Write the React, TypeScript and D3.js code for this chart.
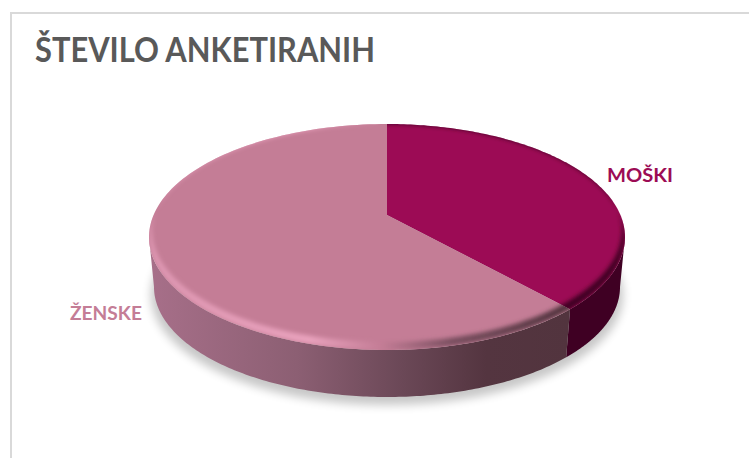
import React from "react";
import * as d3 from "d3";

// Survey respondents by gender
const categories = ["MOŠKI", "ŽENSKE"];
const respondents = [38.3, 61.7];
const sliceColors = ["#9c0b55", "#c47d96"];
const chartTitle = "ŠTEVILO ANKETIRANIH";

const WIDTH = 749;
const HEIGHT = 458;
const FONT = "Lato, 'Open Sans', sans-serif";

// Rim ellipses of the tilted disc: top face and lower edge of the wall
const top = { cx: 387, cy: 237, rx: 238, ry: 113 };
const base = { cx: 387, cy: 287, rx: 233, ry: 110 };
// Perspective offset: the disc centre appears above the ellipse centre
const persp = -0.195;

type Ellipse = typeof top;

const at = (e: Ellipse, phi: number): [number, number] => [
  e.cx + e.rx * Math.sin(phi),
  e.cy - e.ry * Math.cos(phi),
];

// Converts a true pie angle to the parameter on the foreshortened ellipse
const toEllipseAngle = (theta: number) => {
  const u = Math.sin(theta);
  const v = -Math.cos(theta);
  const d = 1 + persp * v;
  const x = (u * Math.sqrt(1 - persp * persp)) / d;
  const y = (v + persp) / d;
  const phi = Math.atan2(x, -y);
  return phi < 0 ? phi + 2 * Math.PI : phi;
};

const line = d3.line<[number, number]>();
const sweep = (e: Ellipse, a: number, b: number) =>
  d3.range(0, 161).map((i) => at(e, a + ((b - a) * i) / 160));

const ellipsePath = (e: Ellipse) => line(sweep(e, 0, 2 * Math.PI)) + "Z";

export default function App() {
  const arcs = d3.pie<number>().sort(null)(respondents);
  const seam = toEllipseAngle(arcs[0].endAngle);
  const apex: [number, number] = [top.cx, top.cy + persp * top.ry];

  const menFace = line([apex, ...sweep(top, 0, seam)]) + "Z";
  const womenFace = line([apex, ...sweep(top, seam, 2 * Math.PI)]) + "Z";
  const wall = (a: number, b: number) =>
    line([...sweep(top, a, b), ...sweep(base, b, a)]) + "Z";

  // Crescent along the front of the rim, used for the bevel
  const inner: Ellipse = { cx: top.cx, cy: top.cy - 7, rx: top.rx - 3, ry: top.ry - 1 };
  const bevel = `${ellipsePath(top)}${ellipsePath(inner)}`;

  return (
    <svg
      width={WIDTH}
      height={HEIGHT}
      style={{ position: "absolute", left: 0, top: 0, background: "#fff" }}
    >
      <defs>
        <linearGradient id="wallWomen" gradientUnits="userSpaceOnUse" x1={150} x2={570} y1={0} y2={0}>
          <stop offset="0" stopColor="#a76f89" />
          <stop offset="0.35" stopColor="#8c5f73" />
          <stop offset="0.6" stopColor="#6b4857" />
          <stop offset="0.8" stopColor="#543540" />
          <stop offset="1" stopColor="#52343e" />
        </linearGradient>
        <linearGradient id="bevelWomen" gradientUnits="userSpaceOnUse" x1={150} x2={570} y1={0} y2={0}>
          <stop offset="0" stopColor="#dd96b1" />
          <stop offset="0.38" stopColor="#e9a2bd" />
          <stop offset="0.55" stopColor="#c47d96" />
          <stop offset="0.72" stopColor="#7a4f60" />
          <stop offset="1" stopColor="#52343e" />
        </linearGradient>
        <filter id="soft" x="-10%" y="-10%" width="120%" height="120%">
          <feGaussianBlur stdDeviation="2" />
        </filter>
        <filter id="shadowBlur" x="-10%" y="-20%" width="120%" height="140%">
          <feGaussianBlur stdDeviation="5" />
        </filter>
        <clipPath id="clipMen">
          <path d={menFace} />
        </clipPath>
        <clipPath id="clipWomen">
          <path d={womenFace} />
        </clipPath>
      </defs>

      <path d="M11 458V13H749" fill="none" stroke="#d9d9d9" strokeWidth={2} />

      <text x={35} y={62} fontFamily={FONT} fontWeight={700} fontSize={34} fill="#595959" textLength={340} lengthAdjust="spacingAndGlyphs">
        {chartTitle}
      </text>

      <ellipse cx={base.cx} cy={base.cy + 8} rx={base.rx + 3} ry={base.ry} fill="#000" opacity={0.22} filter="url(#shadowBlur)" />

      <path d={wall(Math.PI / 2, seam)} fill="#3f0023" />
      <path d={wall(seam, (3 * Math.PI) / 2)} fill="url(#wallWomen)" />

      <path d={menFace} fill={sliceColors[0]} />
      <path d={womenFace} fill={sliceColors[1]} />

      <g clipPath="url(#clipMen)">
        <path d={bevel} fillRule="evenodd" fill="#3f0023" filter="url(#soft)" />
      </g>
      <g clipPath="url(#clipWomen)">
        <path d={bevel} fillRule="evenodd" fill="url(#bevelWomen)" filter="url(#soft)" />
      </g>

      <text x={607} y={182} fontFamily={FONT} fontWeight={700} fontSize={19} fill={sliceColors[0]} textLength={66} lengthAdjust="spacingAndGlyphs">
        {categories[0]}
      </text>
      <text x={70} y={320} fontFamily={FONT} fontWeight={700} fontSize={19} fill={sliceColors[1]} textLength={72} lengthAdjust="spacingAndGlyphs">
        {categories[1]}
      </text>
    </svg>
  );
}
